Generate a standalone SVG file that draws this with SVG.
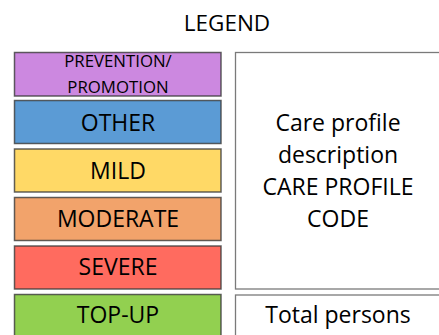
<svg xmlns="http://www.w3.org/2000/svg" width="439" height="335" viewBox="0 0 439 335">
<style>
.t{font-family:"Open Sans","Noto Sans",sans-serif;fill:#000;text-anchor:middle;font-size:23px}
.s{font-size:16.8px}
.k{stroke:#3a3a3a;stroke-opacity:0.8;stroke-width:1.5}
.r{fill:#fff;stroke:#7a7a7a;stroke-width:1.3}
</style>
<rect width="439" height="335" fill="#fff"/>
<text class="t" x="227" y="30.5" style="font-size:22.5px">LEGEND</text>
<g id="prevention"><rect class="k" x="14.5" y="52.5" width="206.5" height="43.5" fill="#CC88E0"/>
<text class="t s" x="118" y="66.5">PREVENTION/</text>
<text class="t s" x="118" y="92.5">PROMOTION</text></g>
<g id="other"><rect class="k" x="14.5" y="100.5" width="206.5" height="43" fill="#5B9BD5"/>
<text class="t" x="118" y="130.7">OTHER</text></g>
<g id="mild"><rect class="k" x="14.5" y="149" width="206.5" height="43" fill="#FFD966"/>
<text class="t" x="118" y="179">MILD</text></g>
<g id="moderate"><rect class="k" x="14.5" y="197.5" width="206.5" height="43" fill="#F2A36B"/>
<text class="t" x="118" y="227.3">MODERATE</text></g>
<g id="severe"><rect class="k" x="14.5" y="246" width="206.5" height="43" fill="#FF6B5F"/>
<text class="t" x="118" y="275">SEVERE</text></g>
<g id="topup"><rect class="k" x="14.5" y="294.5" width="206.5" height="45" fill="#92D050"/>
<text class="t" x="118" y="323">TOP-UP</text></g>
<g id="description"><rect class="r" x="235.5" y="52.5" width="210" height="236.5"/>
<text class="t" x="338" y="130.7">Care profile</text>
<text class="t" x="338" y="163">description</text>
<text class="t" x="338" y="194.7">CARE PROFILE</text>
<text class="t" x="338" y="226.7">CODE</text></g>
<g id="total"><rect class="r" x="235.5" y="295" width="210" height="45"/>
<text class="t" x="338" y="323">Total persons</text></g>
<g id="connectors"></g>
</svg>
